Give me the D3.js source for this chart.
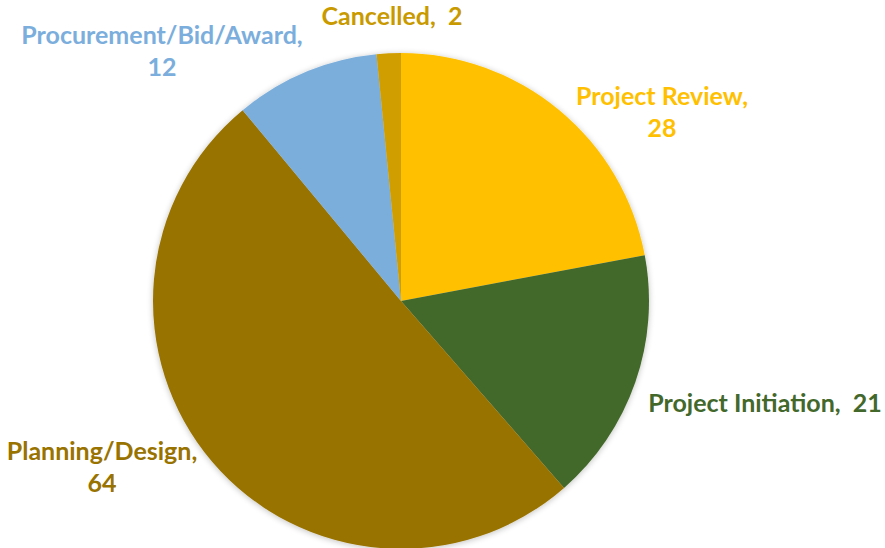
<!DOCTYPE html>
<html>
<head>
<meta charset="utf-8">
<script src="https://cdn.jsdelivr.net/npm/d3@7"></script>
<style>
  html, body { margin: 0; padding: 0; background: #fff; }
  svg { display: block; }
  .lbl { font-family: Lato, "Open Sans", sans-serif; font-weight: bold; font-size: 25px; }
</style>
</head>
<body>
<div id="chart"></div>
<script>
// slices in clockwise order starting at 12 o'clock
const categories = ['Project Review', 'Project Initiation', 'Planning/Design', 'Procurement/Bid/Award', 'Cancelled'];
const values = [28, 21, 64, 12, 2];
const colors = ['#FFC000', '#43682B', '#997300', '#7BAEDC', '#D19E00'];
const textColors = ['#FFC000', '#43682B', '#997300', '#7BAEDC', '#C99A00'];

// label lines for each slice
const labelLines = [
  ['Project Review,', '28'],
  ['Project Initiation,\u00a0\u00a021'],
  ['Planning/Design,', '64'],
  ['Procurement/Bid/Award,', '12'],
  ['Cancelled,\u00a0\u00a02']
];
const labelPos = [[662, 105], [765, 412], [102, 460], [162, 44], [392, 25]];

const width = 885, height = 548;
const cx = 401, cy = 301, r = 248;

const svg = d3.select('#chart').append('svg')
  .attr('width', width)
  .attr('height', height);

const defs = svg.append('defs');
const f = defs.append('filter').attr('id', 'shadow')
  .attr('x', '-10%').attr('y', '-10%').attr('width', '120%').attr('height', '120%');
f.append('feGaussianBlur').attr('in', 'SourceAlpha').attr('stdDeviation', 3);
f.append('feOffset').attr('dx', 0).attr('dy', 1).attr('result', 'b');
f.append('feComponentTransfer').append('feFuncA').attr('type', 'linear').attr('slope', 0.25);
const m = f.append('feMerge');
m.append('feMergeNode');
m.append('feMergeNode').attr('in', 'SourceGraphic');

const pie = d3.pie().sort(null).value((d) => d);
const arc = d3.arc().innerRadius(0).outerRadius(r);

const g = svg.append('g')
  .attr('transform', `translate(${cx},${cy})`)
  .attr('filter', 'url(#shadow)');

g.selectAll('path')
  .data(pie(values))
  .enter()
  .append('path')
  .attr('d', arc)
  .attr('fill', (d, i) => colors[i]);

// Labels
const lbl = svg.selectAll('.lbl')
  .data(categories)
  .enter()
  .append('text')
  .attr('class', 'lbl')
  .attr('text-anchor', 'middle')
  .attr('fill', (d, i) => textColors[i])
  .attr('x', (d, i) => labelPos[i][0])
  .attr('y', (d, i) => labelPos[i][1]);

lbl.each(function (d, i) {
  const t = d3.select(this);
  labelLines[i].forEach((line, j) => {
    t.append('tspan')
      .attr('x', labelPos[i][0])
      .attr('dy', j === 0 ? 0 : 32)
      .text(line);
  });
});
</script>
</body>
</html>
